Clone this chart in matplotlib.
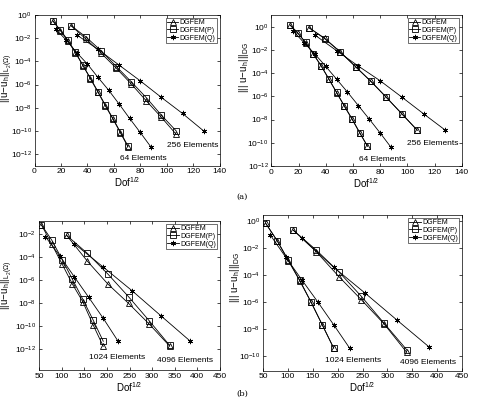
import numpy as np
import matplotlib.pyplot as plt

plt.rcParams['font.family'] = ['Liberation Sans', 'DejaVu Sans']
plt.rcParams['mathtext.fontset'] = 'custom'
plt.rcParams['mathtext.rm'] = 'Liberation Sans'
plt.rcParams['mathtext.it'] = 'Liberation Sans'
plt.rcParams['mathtext.default'] = 'regular'

# sqrt(Dof) for each mesh
x64_p = [13.9, 19.6, 25.3, 31.0, 36.7, 42.3, 48.0, 53.7, 59.3, 65.0, 70.7]
x64_q = [16, 24, 32, 40, 48, 56, 64, 72, 80, 88]
x256_p = [27.7, 39.2, 50.6, 62.0, 73.3, 84.7, 96.0, 107.3]
x256_q = [32, 48, 64, 80, 96, 112, 128]
x1024_p = [55.4, 78.4, 101.2, 123.9, 146.6, 169.3, 192.0]
x1024_q = [64, 96, 128, 160, 192, 224]
x4096_p = [110.9, 156.8, 202.4, 247.9, 293.3, 338.7]
x4096_q = [128, 192, 256, 320, 384]

# (a) L2 errors
l2_64_dg = [3.0e-1, 4.5e-2, 5.8e-3, 5.6e-4, 4.3e-5, 3.2e-6, 2.2e-7, 1.4e-8, 1.1e-9, 6.9e-11, 4.3e-12]
l2_64_p = [3.2e-1, 5.0e-2, 6.6e-3, 6.0e-4, 4.5e-5, 3.5e-6, 2.5e-7, 1.6e-8, 1.2e-9, 7.9e-11, 5.0e-12]
l2_64_q = [6.2e-2, 6.9e-3, 5.6e-4, 5.9e-5, 4.2e-6, 3.4e-7, 2.1e-8, 1.2e-9, 7.4e-11, 4.3e-12]
l2_256_dg = [1.2e-1, 7.9e-3, 4.9e-4, 2.5e-5, 1.1e-6, 3.8e-8, 1.5e-9, 5.0e-11]
l2_256_p = [1.2e-1, 1.2e-2, 7.8e-4, 3.5e-5, 1.7e-6, 7.2e-8, 2.3e-9, 9.8e-11]
l2_256_q = [1.9e-2, 1.1e-3, 4.8e-5, 2.1e-6, 7.8e-8, 3.2e-9, 1.0e-10]

# (a) DG-norm errors
dg_64_dg = [1.4e0, 2.6e-1, 4.2e-2, 4.1e-3, 4.0e-4, 3.0e-5, 2.1e-6, 1.4e-7, 1.1e-8, 7.1e-10, 5.0e-11]
dg_64_p = [1.3e0, 2.7e-1, 4.3e-2, 4.3e-3, 4.2e-4, 3.2e-5, 2.2e-6, 1.5e-7, 1.2e-8, 7.5e-10, 5.2e-11]
dg_64_q = [4.3e-1, 4.2e-2, 4.4e-3, 3.8e-4, 3.0e-5, 2.3e-6, 1.6e-7, 1.1e-8, 7.1e-10, 4.1e-11]
dg_256_dg = [8.1e-1, 1.0e-1, 6.9e-3, 3.5e-4, 1.9e-5, 7.9e-7, 3.1e-8, 1.2e-9]
dg_256_p = [8.1e-1, 9.3e-2, 6.6e-3, 3.5e-4, 1.9e-5, 7.9e-7, 3.1e-8, 1.2e-9]
dg_256_q = [1.9e-1, 8.5e-3, 4.0e-4, 2.2e-5, 8.5e-7, 3.1e-8, 1.2e-9]

# (b) L2 errors
l2_1024_dg = [6.5e-2, 1.3e-3, 2.5e-5, 4.6e-7, 1.4e-8, 1.4e-10, 1.8e-12]
l2_1024_p = [6.5e-2, 3.0e-3, 6.3e-5, 1.2e-6, 2.3e-8, 3.7e-10, 5.0e-12]
l2_1024_q = [6.3e-3, 1.3e-4, 2.0e-6, 3.2e-8, 4.9e-10, 5.6e-12]
l2_4096_dg = [8.1e-3, 4.6e-5, 4.6e-7, 9.8e-9, 1.6e-10, 1.9e-12]
l2_4096_p = [8.1e-3, 2.2e-4, 3.4e-6, 3.7e-8, 3.1e-10, 2.2e-12]
l2_4096_q = [1.5e-3, 1.4e-5, 1.2e-7, 7.8e-10, 5.2e-12]

# (b) DG-norm errors
dg_1024_dg = [6.8e-1, 3.5e-2, 1.1e-3, 3.6e-5, 9.5e-7, 1.9e-8, 3.7e-10]
dg_1024_p = [6.8e-1, 3.5e-2, 1.2e-3, 4.0e-5, 9.5e-7, 1.9e-8, 3.7e-10]
dg_1024_q = [1.0e-1, 2.0e-3, 4.3e-5, 1.0e-6, 2.0e-8, 3.7e-10]
dg_4096_dg = [2.1e-1, 5.4e-3, 7.6e-5, 1.4e-6, 2.3e-8, 1.8e-10]
dg_4096_p = [2.1e-1, 7.1e-3, 1.7e-4, 2.5e-6, 2.6e-8, 2.8e-10]
dg_4096_q = [5.5e-2, 3.7e-4, 4.2e-6, 4.2e-8, 4.4e-10]

labels = ['DGFEM', 'DGFEM(P)', 'DGFEM(Q)']
markers = ['^', 's', (6, 2, 0)]

W, H = 484, 404
fig = plt.figure(figsize=(W / 100, H / 100), dpi=100)


def make_axes(l, r, t, b):
    return fig.add_axes([l / W, 1 - b / H, (r - l) / W, (b - t) / H])


def draw(ax, xs, ys, xlim, xticks, ylim, yticks, ylabel, label_pos, texts):
    for k, (x, y) in enumerate(zip(xs, ys)):
        m = k % 3
        ax.plot(x, y, color='black', lw=0.6, marker=markers[m], ms=3.8,
                mfc='none' if m < 2 else 'black', mec='black', mew=0.6,
                label=labels[m] if k < 3 else None)
    ax.set_yscale('log')
    ax.set_xlim(xlim)
    ax.set_ylim(ylim)
    ax.set_xticks(xticks)
    ax.set_yticks(yticks)
    ax.minorticks_off()
    ax.tick_params(direction='in', top=True, right=True, length=2, width=0.5,
                   labelsize=6, pad=2)
    for s in ax.spines.values():
        s.set_linewidth(0.5)
    ax.set_xlabel('Dof$^{1/2}$', fontsize=7, labelpad=0)
    ax.set_ylabel(ylabel, fontsize=7)
    # the label's right edge sits at a fixed pixel column, like the original
    pos = ax.get_position()
    ax.yaxis.set_label_coords((label_pos[0] / W - pos.x0) / pos.width, label_pos[1])
    leg = ax.legend(loc='upper right', fontsize=5, frameon=True, fancybox=False,
                    edgecolor='black', handlelength=1.6, handletextpad=0.2,
                    borderpad=0.2, labelspacing=0.1, borderaxespad=0.4)
    leg.get_frame().set_linewidth(0.5)
    for tx, ty, s in texts:
        ax.text(tx, ty, s, fontsize=6, va='center')


l2_label = r'$||u\!-\!u_h||_{L_2(\Omega)}$'
dg_label = r'$|||\ u\!-\!u_h|||_{DG}$'

ax1 = make_axes(34.5, 219.5, 15, 165.7)
draw(ax1, [x64_p, x64_p, x64_q, x256_p, x256_p, x256_q],
     [l2_64_dg, l2_64_p, l2_64_q, l2_256_dg, l2_256_p, l2_256_q],
     (0, 140), range(0, 141, 20), (1e-13, 1e0), [10.0 ** e for e in range(-12, 1, 2)],
     l2_label, (15, 0.58),
     [(100, 10 ** -11.3, '256 Elements'), (65, 10 ** -12.4, '64 Elements')])

ax2 = make_axes(271.3, 461.7, 15, 166)
draw(ax2, [x64_p, x64_p, x64_q, x256_p, x256_p, x256_q],
     [dg_64_dg, dg_64_p, dg_64_q, dg_256_dg, dg_256_p, dg_256_q],
     (0, 140), range(0, 141, 20), (1e-12, 1e1), [10.0 ** e for e in range(-12, 1, 2)],
     dg_label, (251, 0.65),
     [(99.5, 10 ** -10.1, '256 Elements'), (64.7, 10 ** -11.4, '64 Elements')])

ax3 = make_axes(39, 220, 221, 370)
draw(ax3, [x1024_p, x1024_p, x1024_q, x4096_p, x4096_p, x4096_q],
     [l2_1024_dg, l2_1024_p, l2_1024_q, l2_4096_dg, l2_4096_p, l2_4096_q],
     (50, 450), range(50, 451, 50), (10 ** -13.8, 10 ** -0.85), [10.0 ** e for e in range(-12, -1, 2)],
     l2_label, (15, 0.57),
     [(161, 10 ** -12.75, '1024 Elements'), (310, 10 ** -13.0, '4096 Elements')])

ax4 = make_axes(263, 462, 215, 370.5)
draw(ax4, [x1024_p, x1024_p, x1024_q, x4096_p, x4096_p, x4096_q],
     [dg_1024_dg, dg_1024_p, dg_1024_q, dg_4096_dg, dg_4096_p, dg_4096_q],
     (50, 450), range(50, 451, 50), (10 ** -11.1, 10 ** 0.45), [10.0 ** e for e in range(-10, 1, 2)],
     dg_label, (242, 0.6),
     [(175, 10 ** -10.35, '1024 Elements'), (325, 10 ** -10.54, '4096 Elements')])

fig.text(242 / W, 1 - 197 / H, '(a)', family='DejaVu Serif', fontsize=6, ha='center', va='center')
fig.text(242 / W, 1 - 394 / H, '(b)', family='DejaVu Serif', fontsize=6, ha='center', va='center')

fig.savefig('out.png', dpi=100)
